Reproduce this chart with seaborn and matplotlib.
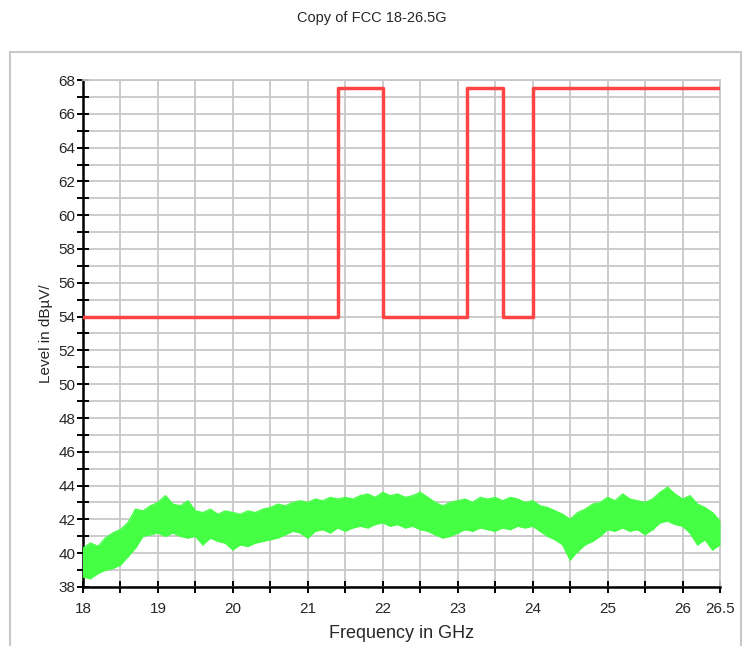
import numpy as np
import pandas as pd
import matplotlib
matplotlib.use('Agg')
import matplotlib.pyplot as plt
import seaborn as sns
from matplotlib.patches import Rectangle
from matplotlib.ticker import MultipleLocator, FixedLocator

sns.set_style('white')
plt.rcParams['font.family'] = ['Liberation Sans', 'DejaVu Sans']

# limit line (steps-post)
limit_freq = [18.0, 21.4, 22.0, 23.12, 23.6, 24.0, 26.5]
limit_level = [54.0, 67.5, 54.0, 67.5, 54.0, 67.5, 67.5]

# measured trace, upper/lower envelope every 0.1 GHz
trace_freq = [round(18.0 + 0.1 * i, 1) for i in range(86)]
trace_hi = [40.3, 40.6, 40.4, 40.9, 41.2, 41.4, 41.8, 42.6, 42.5, 42.8,
            43.0, 43.4, 42.9, 42.8, 43.1, 42.5, 42.4, 42.6, 42.3, 42.5,
            42.4, 42.3, 42.5, 42.4, 42.6, 42.7, 42.9, 42.8, 43.0, 43.1,
            43.0, 43.2, 43.1, 43.3, 43.2, 43.3, 43.2, 43.4, 43.5, 43.3,
            43.6, 43.4, 43.5, 43.3, 43.4, 43.6, 43.3, 43.0, 42.8, 43.0,
            43.1, 43.2, 43.0, 43.3, 43.2, 43.3, 43.1, 43.3, 43.2, 43.0,
            43.1, 42.8, 42.7, 42.5, 42.3, 42.0, 42.4, 42.6, 42.9, 43.0,
            43.3, 43.1, 43.5, 43.2, 43.1, 43.0, 43.2, 43.6, 43.9, 43.5,
            43.2, 43.4, 42.9, 42.7, 42.4, 41.9]
trace_lo = [38.6, 38.5, 38.8, 39.0, 39.1, 39.3, 39.8, 40.3, 41.0, 41.1,
            41.2, 41.0, 41.2, 41.0, 40.9, 41.0, 40.5, 40.9, 40.7, 40.6,
            40.2, 40.5, 40.4, 40.6, 40.7, 40.8, 40.9, 41.1, 41.3, 41.2,
            40.9, 41.3, 41.4, 41.2, 41.5, 41.3, 41.5, 41.6, 41.5, 41.7,
            41.8, 41.6, 41.7, 41.5, 41.6, 41.4, 41.3, 41.1, 40.9, 41.0,
            41.2, 41.4, 41.3, 41.5, 41.4, 41.3, 41.5, 41.4, 41.6, 41.5,
            41.6, 41.3, 41.0, 40.8, 40.5, 39.6, 40.1, 40.5, 40.7, 41.0,
            41.4, 41.3, 41.5, 41.3, 41.4, 41.1, 41.4, 41.8, 41.9, 41.7,
            41.6, 41.2, 40.5, 40.8, 40.2, 40.5]

x_major = [18, 19, 20, 21, 22, 23, 24, 25, 26, 26.5]
x_labels = ['18', '19', '20', '21', '22', '23', '24', '25', '26', '26.5']

green = '#44ff44'
red = '#ff4444'
grid_c = '#c8c8c8'

fig = plt.figure(figsize=(7.43, 6.46), dpi=100)
ax = fig.add_axes([83 / 743, 1 - 587 / 646, 637 / 743, 507 / 646])

trace = pd.DataFrame({'freq': trace_freq, 'hi': trace_hi, 'lo': trace_lo})
ax.fill_between(trace['freq'], trace['lo'], trace['hi'], color=green, lw=0, zorder=3)
sns.lineplot(data=trace, x='freq', y='hi', color=green, lw=1.0, ax=ax, zorder=3)
sns.lineplot(data=trace, x='freq', y='lo', color=green, lw=1.0, ax=ax, zorder=3)
ax.vlines(trace['freq'], trace['lo'], trace['hi'], color=green, lw=1.0, zorder=3)

limit = pd.DataFrame({'freq': limit_freq, 'level': limit_level})
sns.lineplot(data=limit, x='freq', y='level', color=red, lw=2.5,
             drawstyle='steps-post', ax=ax, zorder=4)

ax.set_xlim(18, 26.5)
ax.set_ylim(38, 68)
ax.xaxis.set_major_locator(FixedLocator(x_major))
ax.set_xticklabels(x_labels)
ax.xaxis.set_minor_locator(FixedLocator(np.arange(18.5, 26.0, 1.0)))
ax.yaxis.set_major_locator(MultipleLocator(2))
ax.yaxis.set_minor_locator(MultipleLocator(1))
ax.grid(True, which='both', color=grid_c, lw=1.3, zorder=0)
ax.set_axisbelow(True)

ax.tick_params(which='both', bottom=True, left=True, top=False, right=False,
               direction='inout', length=9, width=1.4, color='black',
               labelsize=11, pad=1)
ax.tick_params(axis='x', which='both', pad=6)

for side in ['top', 'right']:
    ax.spines[side].set_color(grid_c)
    ax.spines[side].set_linewidth(1.3)
for side in ['left', 'bottom']:
    ax.spines[side].set_color('black')
    ax.spines[side].set_linewidth(1.8)

ax.set_xlabel('Frequency in GHz', fontsize=13, labelpad=7)
ax.set_ylabel('Level in dBµV/', fontsize=11, labelpad=4)

fig.text(0.5, 1 - 18 / 646, 'Copy of FCC 18-26.5G', ha='center', va='center', fontsize=10.5)
fig.patches.append(Rectangle((9.5 / 743, -0.02), 731 / 743, 1 - 52 / 646 + 0.02,
                             transform=fig.transFigure, fill=False,
                             edgecolor=grid_c, lw=1.5, zorder=0))

fig.savefig('out.png', dpi=100)
